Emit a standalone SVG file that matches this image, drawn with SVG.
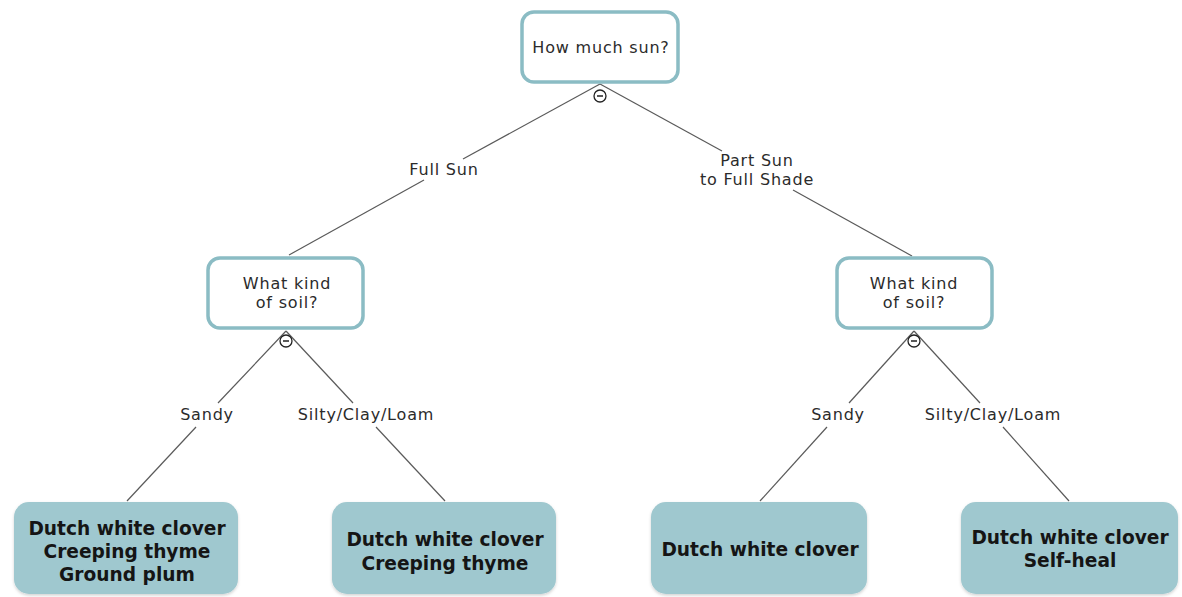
<svg xmlns="http://www.w3.org/2000/svg" width="1182" height="597" viewBox="0 0 1182 597">
<defs>
<style>
.q{fill:#ffffff;stroke:#8bbcc4;stroke-width:3.5}
.leaf{fill:#9fc8cf;stroke:none}
.qt{font-family:"DejaVu Sans","Open Sans",sans-serif;font-size:16px;letter-spacing:0.8px;fill:#2b2b2b;text-anchor:middle;dominant-baseline:central}
.lt{font-family:"DejaVu Sans","Open Sans",sans-serif;font-size:16px;letter-spacing:0.8px;fill:#2b2b2b;text-anchor:middle;dominant-baseline:central}
.bt{font-family:"DejaVu Sans","Open Sans",sans-serif;font-size:18.6px;font-weight:bold;fill:#151515;text-anchor:middle;dominant-baseline:central}
.c{stroke:#5a5a5a;stroke-width:1.2;fill:none}
.tog{fill:#ffffff;stroke:#222;stroke-width:1.3}
.togm{stroke:#222;stroke-width:1.5}
</style>
<filter id="sh" x="-10%" y="-10%" width="120%" height="130%">
<feDropShadow dx="0" dy="1.5" stdDeviation="1.5" flood-color="#000" flood-opacity="0.18"/>
</filter>
</defs>
<g id="connectors">
<line class="c" x1="600" y1="84" x2="463" y2="159"/>
<line class="c" x1="424" y1="180" x2="289" y2="255"/>
<line class="c" x1="600" y1="84" x2="722" y2="151"/>
<line class="c" x1="793" y1="190" x2="912" y2="256"/>
<line class="c" x1="286" y1="331" x2="218" y2="403"/>
<line class="c" x1="196" y1="427" x2="127" y2="501"/>
<line class="c" x1="286" y1="331" x2="353" y2="403"/>
<line class="c" x1="376" y1="427" x2="445" y2="501"/>
<line class="c" x1="914" y1="331" x2="849" y2="403"/>
<line class="c" x1="827" y1="427" x2="760" y2="501"/>
<line class="c" x1="914" y1="331" x2="980" y2="403"/>
<line class="c" x1="1003" y1="427" x2="1069" y2="501"/>
<text class="lt" x="444" y="169">Full Sun</text>
<text class="lt"><tspan x="757" y="160">Part Sun</tspan><tspan x="757" y="179">to Full Shade</tspan></text>
<text class="lt" x="207" y="414">Sandy</text>
<text class="lt" x="366" y="414">Silty/Clay/Loam</text>
<text class="lt" x="838" y="414">Sandy</text>
<text class="lt" x="993" y="414">Silty/Clay/Loam</text>
</g>
<g id="root">
<rect class="q" x="522" y="12" width="156" height="70" rx="12"/>
<text class="qt" x="601" y="47">How much sun?</text>
<circle class="tog" cx="600" cy="96" r="6"/>
<line class="togm" x1="597" y1="96" x2="603" y2="96"/>
</g>
<g id="soil-left">
<rect class="q" x="208" y="258" width="155" height="70" rx="12"/>
<text class="qt"><tspan x="287" y="283">What kind</tspan><tspan x="287" y="302">of soil?</tspan></text>
<circle class="tog" cx="286" cy="341" r="6"/>
<line class="togm" x1="283" y1="341" x2="289" y2="341"/>
</g>
<g id="soil-right">
<rect class="q" x="837" y="258" width="155" height="70" rx="12"/>
<text class="qt"><tspan x="914" y="283">What kind</tspan><tspan x="914" y="302">of soil?</tspan></text>
<circle class="tog" cx="914" cy="341" r="6"/>
<line class="togm" x1="911" y1="341" x2="917" y2="341"/>
</g>
<g id="leaf-1">
<rect class="leaf" filter="url(#sh)" x="14" y="502" width="224" height="92" rx="15"/>
<text class="bt"><tspan x="127" y="528">Dutch white clover</tspan><tspan x="127" y="551">Creeping thyme</tspan><tspan x="127" y="574">Ground plum</tspan></text>
</g>
<g id="leaf-2">
<rect class="leaf" filter="url(#sh)" x="332" y="502" width="224" height="92" rx="15"/>
<text class="bt"><tspan x="445" y="539">Dutch white clover</tspan><tspan x="445" y="563">Creeping thyme</tspan></text>
</g>
<g id="leaf-3">
<rect class="leaf" filter="url(#sh)" x="651" y="502" width="216" height="92" rx="15"/>
<text class="bt" x="760" y="549">Dutch white clover</text>
</g>
<g id="leaf-4">
<rect class="leaf" filter="url(#sh)" x="961" y="502" width="217" height="92" rx="15"/>
<text class="bt"><tspan x="1070" y="537">Dutch white clover</tspan><tspan x="1070" y="560">Self-heal</tspan></text>
</g>
</svg>
